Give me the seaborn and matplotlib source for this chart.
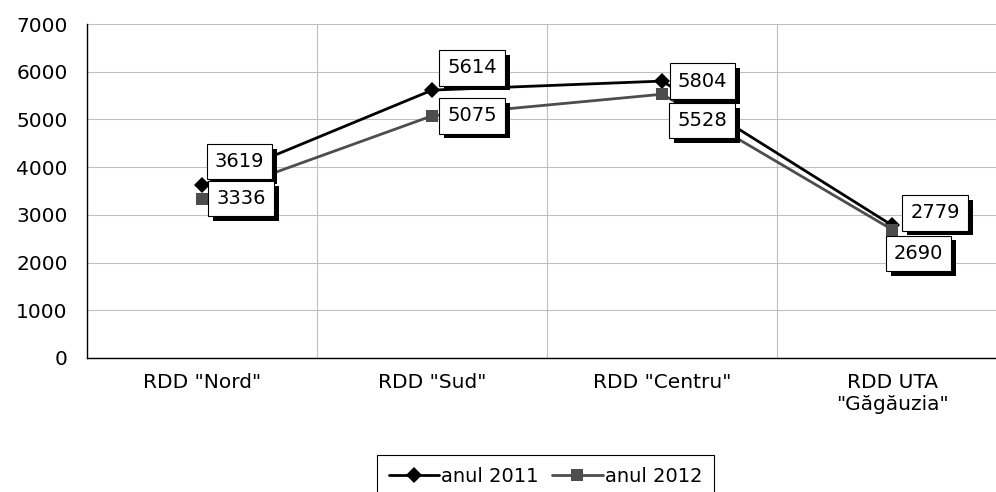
import pandas as pd
import matplotlib
matplotlib.use("Agg")
import matplotlib.pyplot as plt
import matplotlib.patheffects as pe
import seaborn as sns

# === Data ===
regions = ['RDD "Nord"', 'RDD "Sud"', 'RDD "Centru"', 'RDD UTA\n"Găgăuzia"']
values_2011 = [3619, 5614, 5804, 2779]
values_2012 = [3336, 5075, 5528, 2690]
series = ["anul 2011", "anul 2012"]

df = pd.DataFrame({
    "pos": list(range(len(regions))) * 2,
    "value": values_2011 + values_2012,
    "year": [series[0]] * len(regions) + [series[1]] * len(regions),
})

sns.set_style("white")
plt.rcParams["font.family"] = ["DejaVu Sans"]
plt.rcParams["text.color"] = "black"
plt.rcParams["xtick.color"] = "black"
plt.rcParams["ytick.color"] = "black"

fig = plt.figure(figsize=(9.96, 4.92), dpi=100)
ax = fig.add_axes([0.0873, 0.2724, 0.924, 0.6788])

colors = {series[0]: "#000000", series[1]: "#4d4d4d"}
sns.lineplot(
    data=df, x="pos", y="value", hue="year", style="year",
    palette=colors, markers={series[0]: "D", series[1]: "s"},
    dashes=False, linewidth=2, markersize=8, markeredgewidth=0,
    ax=ax, legend=True,
)

# label offsets in points (label placement, not data)
offs_2011 = [(27, 17), (29, 16), (29, 0), (31, 9)]
offs_2012 = [(28, 0), (29, 0), (29, -19), (19, -17)]

def add_label(x, y, off):
    t = ax.annotate(
        f"{y}", (x, y), xytext=off, textcoords="offset points",
        ha="center", va="center", fontsize=14,
        bbox=dict(boxstyle="square,pad=0.42", fc="white", ec="black", lw=0.8),
        zorder=5,
    )
    t.get_bbox_patch().set_path_effects([
        pe.withSimplePatchShadow(offset=(3.5, -3.5), shadow_rgbFace="black", alpha=1.0),
    ])

for i, v in enumerate(values_2011):
    add_label(i, v, offs_2011[i])
for i, v in enumerate(values_2012):
    add_label(i, v, offs_2012[i])

ax.set_xlim(-0.5, len(regions) - 0.5)
ax.set_ylim(0, 7000)
ax.set_yticks(range(0, 7001, 1000))
ax.set_xticks([i - 0.5 for i in range(len(regions) + 1)])
ax.set_xticklabels([])
ax.set_xticks(range(len(regions)), minor=True)
ax.set_xticklabels(regions, minor=True, fontsize=14.5)
ax.tick_params(axis="x", which="minor", length=0, pad=11)
ax.tick_params(axis="x", which="major", length=6, width=0.8, color="black", direction="out")
ax.tick_params(axis="y", length=6, width=0.8, color="black", direction="out", labelsize=14.5, pad=8)
ax.grid(True, which="major", color="#c0c0c0", lw=0.8)
ax.set_axisbelow(True)
ax.set_xlabel("")
ax.set_ylabel("")
for side in ("top", "right"):
    ax.spines[side].set_visible(False)
for side in ("left", "bottom"):
    ax.spines[side].set_color("black")
    ax.spines[side].set_linewidth(1)

handles, labels = ax.get_legend_handles_labels()
ax.legend(
    handles, labels, loc="upper center", bbox_to_anchor=(0.5476, 0.075),
    bbox_transform=fig.transFigure, ncol=2, frameon=True, fancybox=False,
    edgecolor="black", fontsize=14, handlelength=2.6, columnspacing=0.7,
    handletextpad=0.1, borderpad=0.6, borderaxespad=0, framealpha=1,
)
ax.get_legend().get_frame().set_linewidth(0.8)

fig.savefig("out.png", dpi=100)
